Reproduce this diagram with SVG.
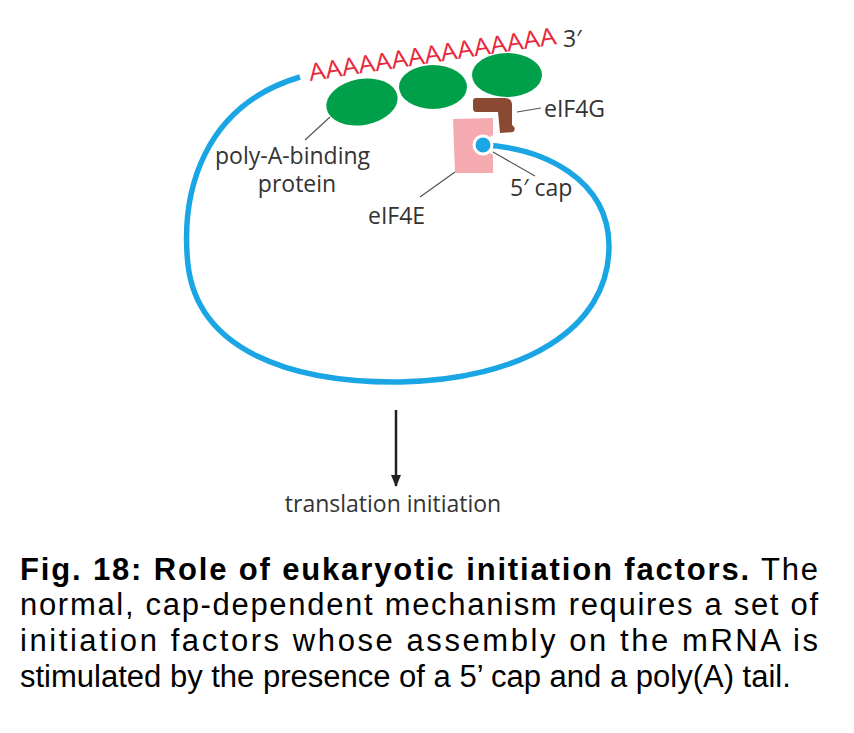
<svg xmlns="http://www.w3.org/2000/svg" width="854" height="733" viewBox="0 0 854 733">
<style>
.lbl{font-family:"Open Sans","Liberation Sans",sans-serif;font-size:23px;fill:#333}
.cap{font-family:"Liberation Sans",Arial,sans-serif;font-size:31px;fill:#000}
.lead{stroke:#555;stroke-width:1.2;fill:none}
.pab{fill:#00a04a}
</style>
<defs><marker id="ah" markerWidth="12" markerHeight="10" refX="11" refY="5" orient="auto" markerUnits="userSpaceOnUse"><path d="M0,0 L12,5 L0,10 Z" fill="#222"/></marker></defs>
<rect width="854" height="733" fill="#fff"/>
<g id="connectors">
<path id="mrna" d="M300,77 C205,105 180,190 188,265 C198,350 290,383 400,382 C520,380 610,330 609,245 C608,180 545,148 483,145" fill="none" stroke="#1aa6e4" stroke-width="5.5"/>
<path class="lead" d="M330,117 L305,140"/>
<path class="lead" d="M517,112 L541,108"/>
<path class="lead" d="M493,152 L535,176"/>
<path class="lead" d="M455,172 L420,197"/>
<line x1="396" y1="410" x2="396" y2="486" stroke="#222" stroke-width="2.5" marker-end="url(#ah)"/>
</g>
<g id="polyA"><text x="310" y="81" font-family="Open Sans,Liberation Sans,sans-serif" font-size="24" fill="#e8283c" transform="rotate(-8.5 310 81)" textLength="250" lengthAdjust="spacingAndGlyphs">AAAAAAAAAAAAAAA</text>
<text x="563" y="47" class="lbl" font-size="22">3′</text></g>
<g id="pabp">
<ellipse class="pab" cx="362" cy="102" rx="36" ry="23" transform="rotate(-10 362 102)"/>
<ellipse class="pab" cx="433" cy="87" rx="34" ry="22"/>
<ellipse class="pab" cx="507" cy="75" rx="35" ry="22"/>
<text x="215" y="164" class="lbl">poly-A-binding</text><text x="297" y="192" class="lbl" text-anchor="middle">protein</text>
</g>
<g id="eIF4G"><path d="M476,98 L505,98 Q512,98 512,105 L512,125 Q517,128 513,132 L500,133 L498,112 L476,112 Q473,112 473,108 L473,101 Q473,98 476,98 Z" fill="#8a4a32"/>
<text x="544" y="117" class="lbl">eIF4G</text></g>
<g id="eIF4E"><path d="M453,119 L493,118 L493,135 A11,11 0 0 0 493,155 L493,173 L455,173 Z" fill="#f4aaae"/>
<text x="368" y="224" class="lbl">eIF4E</text></g>
<g id="cap"><circle cx="483" cy="145" r="9" fill="#1aa6e4" stroke="#fff" stroke-width="3"/>
<text x="510" y="196" class="lbl">5′ cap</text></g>
<g id="result"><text x="393" y="512" class="lbl" text-anchor="middle">translation initiation</text></g>
<g id="caption">
<text x="20" y="580" class="cap" textLength="798" lengthAdjust="spacing"><tspan font-weight="bold">Fig. 18: Role of eukaryotic initiation factors.</tspan> The</text>
<text x="20" y="615" class="cap" textLength="798" lengthAdjust="spacing">normal, cap-dependent mechanism requires a set of</text>
<text x="20" y="651" class="cap" textLength="798" lengthAdjust="spacing">initiation factors whose assembly on the mRNA is</text>
<text x="20" y="687" class="cap">stimulated by the presence of a 5’ cap and a poly(A) tail.</text>
</g>
</svg>
